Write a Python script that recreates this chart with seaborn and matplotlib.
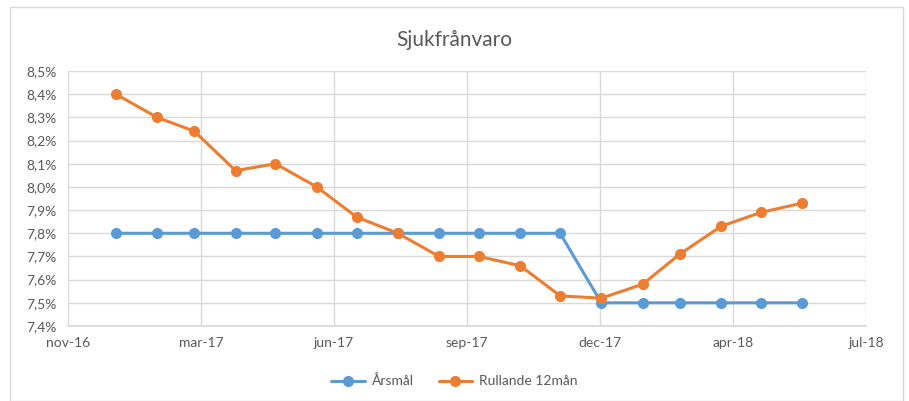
import pandas as pd
import numpy as np
import matplotlib
matplotlib.use("Agg")
import matplotlib.pyplot as plt
from matplotlib.patches import Rectangle
import seaborn as sns

# ── Data ────────────────────────────────────────────────
MONTHS = ["2017-01-01", "2017-02-01", "2017-03-01", "2017-04-01", "2017-05-01", "2017-06-01",
          "2017-07-01", "2017-08-01", "2017-09-01", "2017-10-01", "2017-11-01", "2017-12-01",
          "2018-01-01", "2018-02-01", "2018-03-01", "2018-04-01", "2018-05-01", "2018-06-01"]
ARSMAL    = [7.80, 7.80, 7.80, 7.80, 7.80, 7.80, 7.80, 7.80, 7.80, 7.80, 7.80, 7.80,
             7.50, 7.50, 7.50, 7.50, 7.50, 7.50]
RULLANDE  = [8.40, 8.30, 8.24, 8.07, 8.10, 8.00, 7.87, 7.80, 7.70, 7.70, 7.66, 7.53,
             7.52, 7.58, 7.71, 7.83, 7.89, 7.93]
SERIES    = ["Årsmål", "Rullande 12mån"]
COLORS    = ["#5B9BD5", "#ED7D31"]
SV_MONTHS = ["jan", "feb", "mar", "apr", "maj", "jun", "jul", "aug", "sep", "okt", "nov", "dec"]
# ────────────────────────────────────────────────────────

df = pd.DataFrame({"datum": pd.to_datetime(MONTHS), SERIES[0]: ARSMAL, SERIES[1]: RULLANDE})
long = df.melt(id_vars="datum", var_name="serie", value_name="varde")

sns.set_theme(style="white")
plt.rcParams["font.family"] = ["Lato", "DejaVu Sans"]
TXT = "#595959"
GRID = "#D9D9D9"

fig = plt.figure(figsize=(9.09, 4.01), dpi=100)
ax = fig.add_axes([68 / 909, (401 - 326) / 401, (866 - 68) / 909, (326 - 71) / 401])

sns.lineplot(data=long, x="datum", y="varde", hue="serie", palette=COLORS,
             marker="o", markersize=8, markeredgewidth=0, linewidth=2.2,
             ax=ax, zorder=3)

# x axis: Excel-style date axis, 100 day major unit
x0 = pd.Timestamp("2016-11-26")
ticks = [x0 + pd.Timedelta(days=100 * i) for i in range(7)]
ax.set_xlim(ticks[0], ticks[-1])
ax.set_xticks(ticks)
ax.set_xticklabels([f"{SV_MONTHS[t.month - 1]}-{t.strftime('%y')}" for t in ticks])

ax.set_ylim(7.4, 8.5)
yt = np.round(np.arange(7.4, 8.51, 0.1), 1)
ax.set_yticks(yt)
ax.set_yticklabels([f"{v:.1f}%".replace(".", ",") for v in yt])

ax.grid(True, color=GRID, linewidth=1)
for s in ax.spines.values():
    s.set_visible(False)
ax.spines["bottom"].set_visible(True)
ax.spines["bottom"].set_color(GRID)
ax.tick_params(axis="both", colors=TXT, labelsize=10, length=0, pad=8)
ax.set_xlabel("")
ax.set_ylabel("")

fig.text(0.5, (401 - 40) / 401, "Sjukfrånvaro", ha="center", va="center",
         fontsize=15, color=TXT)

handles, labels = ax.get_legend_handles_labels()
ax.legend(handles, labels, loc="center", bbox_to_anchor=(0.5, 1 - 381 / 401),
          bbox_transform=fig.transFigure, ncol=2, frameon=False,
          fontsize=10, labelcolor=TXT, handlelength=2.4, handletextpad=0.5,
          columnspacing=1.8)

fig.patches.append(Rectangle((10 / 909, 0), 893 / 909, (401 - 7) / 401,
                             transform=fig.transFigure, fill=False,
                             edgecolor=GRID, linewidth=1))

fig.savefig("out.png", dpi=100)
